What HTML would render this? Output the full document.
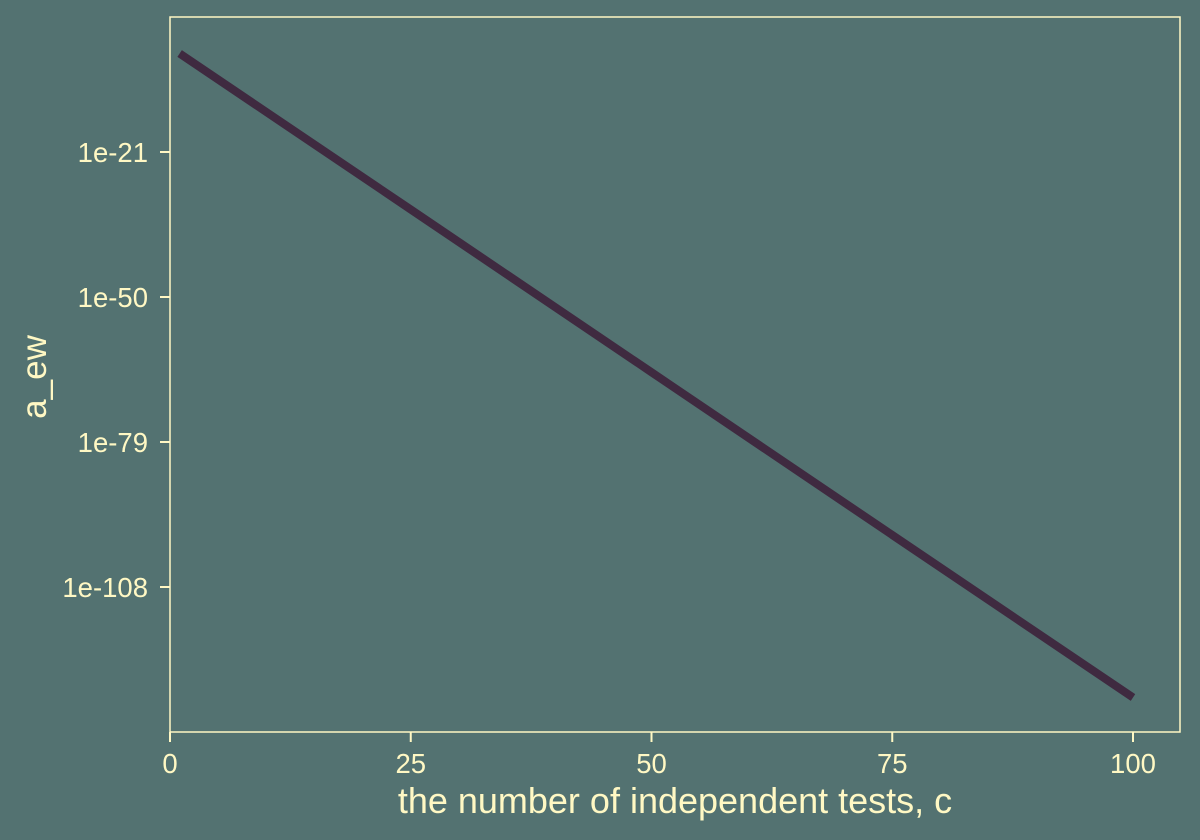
<!DOCTYPE html>
<html><head><meta charset="utf-8"><style>
html,body{margin:0;padding:0;background:#537271;}
svg{display:block;font-family:"Liberation Sans",sans-serif;}
</style></head><body>
<svg id="chart" width="1200" height="840">
<rect width="1200" height="840" fill="#537271"/>
<rect x="170" y="17" width="1010" height="715" fill="none" stroke="#fff8c4" stroke-width="1.5"/>
<g id="axes"></g>
<text x="675" y="813" font-size="36" fill="#fff8c4" text-anchor="middle">the number of independent tests, c</text>
<text transform="translate(46,377) rotate(-90)" font-size="35" fill="#fff8c4" text-anchor="middle">a_ew</text>
</svg>
<script>
const cValues=[1,25,50,75,100];
const logValues=[-1.3,-32.5,-65.05,-97.6,-130.1];
const xTicks=[0,25,50,75,100];
const yTicks=[-21,-50,-79,-108];
const yTickLabels=["1e-21","1e-50","1e-79","1e-108"];
const NS="http://www.w3.org/2000/svg";
const X0=170,X1=1180,Y0=17,Y1=732;
const xMin=0,xMax=104.88,yMax=6,yMin=-137;
function sx(v){return X0+(v-xMin)/(xMax-xMin)*(X1-X0);}
function sy(v){return Y0+(yMax-v)/(yMax-yMin)*(Y1-Y0);}
const g=document.getElementById('axes');
function mk(t,a){const e=document.createElementNS(NS,t);for(const k in a)e.setAttribute(k,a[k]);g.appendChild(e);return e;}
xTicks.forEach(t=>{
 const l=mk('line',{x1:sx(t),x2:sx(t),y1:Y1,y2:Y1+10,stroke:'#fff8c4','stroke-width':2});
 
 
 const s=mk('text',{x:sx(t),y:Y1+41,'font-size':27.5,fill:'#fff8c4','text-anchor':'middle'});
 s.textContent=t;
 
 
});
yTicks.forEach((t,i)=>{
 const l=mk('line',{x1:X0-10,x2:X0,y1:sy(t),y2:sy(t),stroke:'#fff8c4','stroke-width':2});
 
 
 const s=mk('text',{x:X0-22,y:sy(t)+10,'font-size':27.5,fill:'#fff8c4','text-anchor':'end'});
 s.textContent=yTickLabels[i];
 
 
});
const p=mk('polyline',{points:cValues.map((c,i)=>sx(c)+','+sy(logValues[i])).join(' '),fill:'none',stroke:'#3f2a40','stroke-width':8});


</script>
</body></html>
